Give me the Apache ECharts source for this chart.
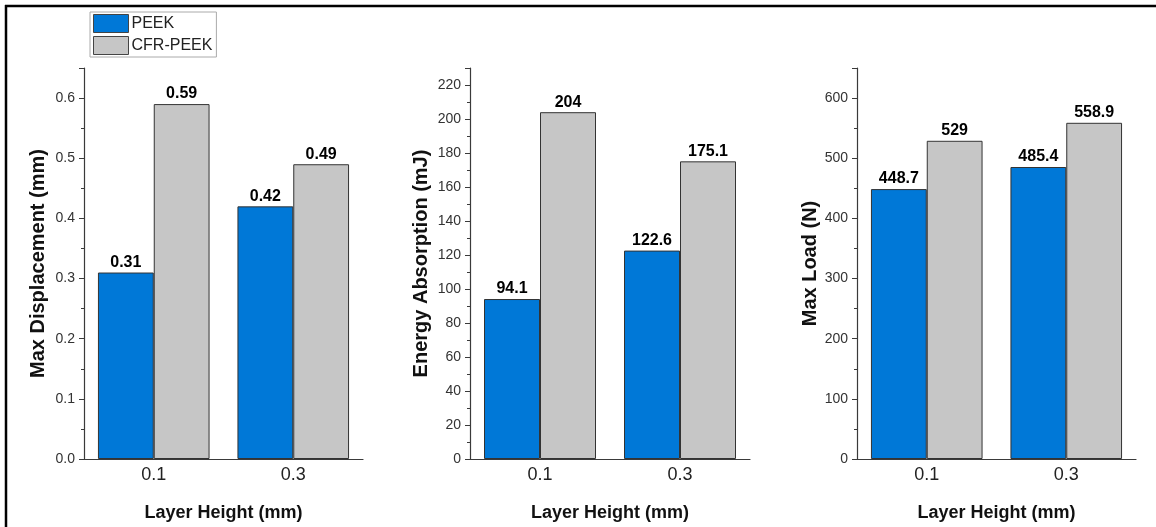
<!DOCTYPE html>
<html>
<head>
<meta charset="utf-8">
<script src="https://cdn.jsdelivr.net/npm/echarts@6/dist/echarts.min.js"></script>
<style>
  html, body { margin: 0; padding: 0; background: #fff; }
  #chart { width: 1156px; height: 527px; }
</style>
</head>
<body>
<div id="chart"></div>
<script>
// data
var categories = ['0.1', '0.3']
var seriesNames = ['PEEK', 'CFR-PEEK']
var dispPeek = [0.31, 0.42]
var dispCfr = [0.59, 0.49]
var energyPeek = [94.1, 122.6]
var energyCfr = [204, 175.1]
var loadPeek = [448.7, 485.4]
var loadCfr = [529, 558.9]
var yTitles = ['Max Displacement (mm)', 'Energy Absorption (mJ)', 'Max Load (N)']
var xTitle = 'Layer Height (mm)'

var colors = ['#0078d7', '#c6c6c6']
var font = '"Liberation Sans", Arial, sans-serif'
var axisColor = '#3a3a3a'

var myChart = echarts.init(document.getElementById('chart'))

function xAxisFor(idx) {
  return {
    type: 'category',
    gridIndex: idx,
    data: categories,
    name: xTitle,
    nameLocation: 'middle',
    nameGap: 45,
    nameTextStyle: { fontFamily: font, fontSize: 18, fontWeight: 'bold', color: '#111' },
    axisLine: { lineStyle: { color: axisColor, width: 1.2 } },
    axisTick: { alignWithLabel: true, length: 5, lineStyle: { color: axisColor } },
    axisLabel: { fontFamily: font, fontSize: 18, color: '#222', margin: 7 },
  }
}

function yAxisFor(idx, max, interval, gap, fmt) {
  return {
    type: 'value',
    gridIndex: idx,
    min: 0,
    max: max,
    interval: interval,
    name: yTitles[idx],
    nameLocation: 'middle',
    nameRotate: 90,
    nameGap: gap,
    nameTextStyle: { fontFamily: font, fontSize: 20, fontWeight: 'bold', color: '#111' },
    axisLine: { show: true, lineStyle: { color: axisColor, width: 1.2 } },
    axisTick: { show: true, length: 5, lineStyle: { color: axisColor } },
    minorTick: { show: true, splitNumber: 2, length: 3, lineStyle: { color: axisColor } },
    splitLine: { show: false },
    axisLabel: { fontFamily: font, fontSize: 14, color: '#333', margin: 9, showMaxLabel: false, formatter: fmt },
  }
}

function barFor(idx, nameIdx, values) {
  return {
    type: 'bar',
    name: seriesNames[nameIdx],
    xAxisIndex: idx,
    yAxisIndex: idx,
    data: values,
    barGap: '0%',
    barCategoryGap: '20%',
    itemStyle: { color: colors[nameIdx], borderColor: '#333', borderWidth: 1 },
    label: {
      show: true,
      position: 'top',
      distance: 2,
      fontFamily: font,
      fontSize: 16,
      fontWeight: 'bold',
      color: '#000',
    },
  }
}

var option = {
  animation: false,
  legend: {
    data: seriesNames,
    orient: 'vertical',
    left: 90,
    top: 12,
    icon: 'rect',
    itemWidth: 35,
    itemHeight: 18,
    itemGap: 3,
    padding: [2, 4, 2, 3],
    borderColor: '#aaa',
    borderWidth: 1,
    itemStyle: { borderColor: '#444', borderWidth: 1 },
    textStyle: { fontFamily: font, fontSize: 16, color: '#222', padding: [0, 0, 0, -2] },
  },
  grid: [
    { left: 84, width: 279, top: 68, bottom: 65 },
    { left: 470, width: 280, top: 68, bottom: 65 },
    { left: 857, width: 279, top: 68, bottom: 65 },
  ],
  xAxis: [xAxisFor(0), xAxisFor(1), xAxisFor(2)],
  yAxis: [
    yAxisFor(0, 0.65, 0.1, 36, function (v) { return v.toFixed(1) }),
    yAxisFor(1, 230, 20, 39, '{value}'),
    yAxisFor(2, 650, 100, 34, '{value}'),
  ],
  series: [
    barFor(0, 0, dispPeek),
    barFor(0, 1, dispCfr),
    barFor(1, 0, energyPeek),
    barFor(1, 1, energyCfr),
    barFor(2, 0, loadPeek),
    barFor(2, 1, loadCfr),
  ],
  graphic: [
    { type: 'line', shape: { x1: 5, y1: 6, x2: 1156, y2: 6 }, style: { stroke: '#000', lineWidth: 2.5 } },
    { type: 'line', shape: { x1: 6, y1: 5, x2: 6, y2: 527 }, style: { stroke: '#000', lineWidth: 2.5 } },
  ],
}
myChart.setOption(option, true)
</script>
</body>
</html>
